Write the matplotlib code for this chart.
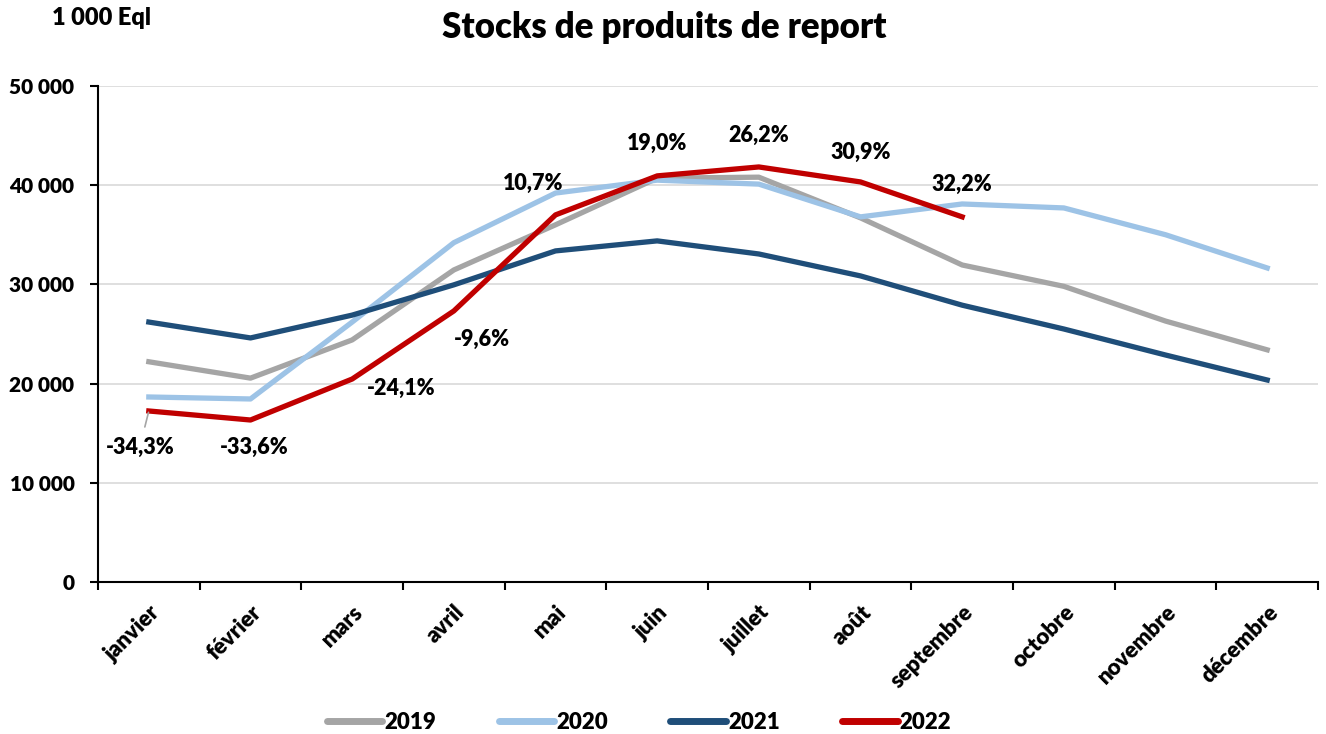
import numpy as np
import matplotlib.pyplot as plt
from matplotlib.ticker import FuncFormatter

plt.rcParams['font.family'] = ['Lato', 'DejaVu Sans']
plt.rcParams['font.weight'] = 'heavy'

# Data (1 000 Eql)
mois = ['janvier', 'février', 'mars', 'avril', 'mai', 'juin', 'juillet',
        'août', 'septembre', 'octobre', 'novembre', 'décembre']
stock_2019 = [22200, 20550, 24400, 31450, 36000, 40700, 40800, 36700, 31950, 29800, 26300, 23400]
stock_2020 = [18650, 18450, 26200, 34200, 39200, 40500, 40100, 36800, 38100, 37700, 35000, 31650]
stock_2021 = [26200, 24600, 26900, 29950, 33370, 34380, 33060, 30850, 27900, 25500, 22880, 20360]
stock_2022 = [17240, 16330, 20460, 27320, 37000, 40930, 41830, 40320, 36800]
variation_2022 = ['-34,3%', '-33,6%', '-24,1%', '-9,6%', '10,7%', '19,0%', '26,2%', '30,9%', '32,2%']

# label offsets in pixels from the 2022 point
label_offsets = [(-9, -36), (4, -27), (49, -9), (28, -28), (-22, 31),
                 (0, 32), (0, 32), (0, 30), (0, 32)]

fig = plt.figure(figsize=(13.26, 7.34), dpi=100)
ax = fig.add_axes([0.0739, 0.207, 0.9201, 0.676])

x = np.arange(len(mois))
lw = 3.8
ax.plot(x, stock_2019, color='#A5A5A5', lw=lw, label='2019')
ax.plot(x, stock_2020, color='#9DC3E6', lw=lw, label='2020')
ax.plot(x, stock_2021, color='#1F4E79', lw=lw, label='2021')
ax.plot(x[:len(stock_2022)], stock_2022, color='#C00000', lw=lw, label='2022')

for i, (txt, off) in enumerate(zip(variation_2022, label_offsets)):
    if i == 0:
        ax.annotate(txt, (x[i], stock_2022[i]), xytext=off, textcoords='offset pixels',
                    ha='center', va='center', fontsize=15.5,
                    arrowprops=dict(arrowstyle='-', color='#A5A5A5', lw=1.2,
                                    shrinkA=5, shrinkB=1))
    else:
        ax.annotate(txt, (x[i], stock_2022[i]), xytext=off, textcoords='offset pixels',
                    ha='center', va='center', fontsize=15.5)

ax.set_xlim(-0.5, len(mois) - 0.5)
ax.set_ylim(0, 50000)
ax.set_yticks(np.arange(0, 50001, 10000))
ax.yaxis.set_major_formatter(FuncFormatter(lambda v, p: f'{int(v):,}'.replace(',', ' ')))
ax.grid(axis='y', color='#D9D9D9', lw=1.2)
ax.set_axisbelow(True)

# month labels centred, ticks on the boundaries
ax.set_xticks(x)
ax.set_xticklabels(mois, rotation=45, ha='right', rotation_mode='anchor')
ax.tick_params(axis='x', which='major', length=0, pad=14, labelsize=16)
ax.set_xticks(np.arange(-0.5, len(mois) + 0.5, 1), minor=True)
ax.tick_params(axis='x', which='minor', length=6, width=1.5, direction='out')
ax.tick_params(axis='y', length=6, width=1.5, labelsize=15, pad=11)

for s in ['top', 'right']:
    ax.spines[s].set_visible(False)
for s in ['left', 'bottom']:
    ax.spines[s].set_linewidth(1.5)

fig.text(0.501, 0.962, 'Stocks de produits de report', ha='center', va='center',
         fontsize=25)
fig.text(0.039, 0.976, '1 000 Eql', ha='left', va='center', fontsize=17)

leg = fig.legend(loc='center', bbox_to_anchor=(0.482, 0.016), ncol=4, frameon=False,
                 fontsize=16, handlelength=2.5, columnspacing=2.8, handletextpad=0.1)
for h in leg.get_lines():
    h.set_linewidth(5)
    h.set_solid_capstyle('round')

fig.savefig('out.png', dpi=100)
